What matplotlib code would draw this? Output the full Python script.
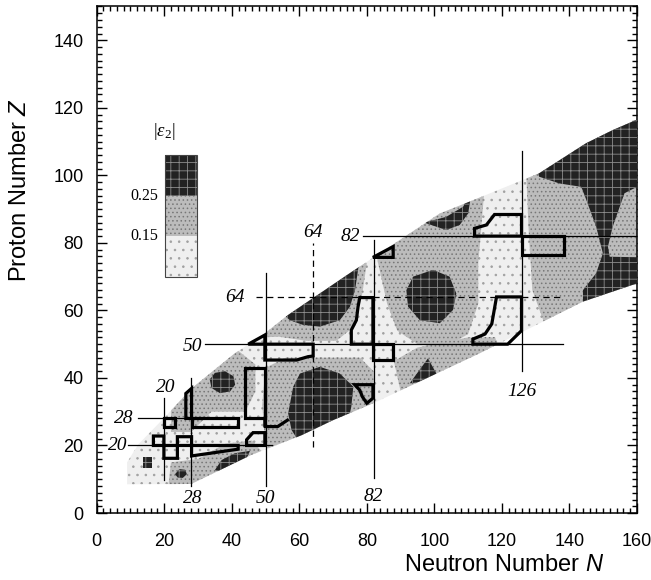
import matplotlib
matplotlib.use("Agg")
import matplotlib.pyplot as plt
from matplotlib.patches import Polygon, Rectangle
from matplotlib.ticker import MultipleLocator
from matplotlib.transforms import ScaledTranslation

plt.rcParams['font.family'] = ['Liberation Sans', 'DejaVu Sans']
plt.rcParams['mathtext.fontset'] = 'custom'
plt.rcParams['mathtext.rm'] = 'Liberation Serif'
plt.rcParams['mathtext.it'] = 'Liberation Serif:italic'
plt.rcParams['mathtext.sf'] = 'Liberation Sans:italic'
plt.rcParams['hatch.linewidth'] = 0.6

# outline of the calculated nuclei (N, Z)
band = [(9, 8.5), (9, 15), (12.3, 20.3), (20.2, 28.4), (28.1, 36.9), (40.9, 47.3),
        (49.8, 53.2), (56.6, 58.6), (74.9, 71), (101.6, 88.7), (110.4, 92.2),
        (131, 100.6), (144.9, 109.5), (152.8, 113.4), (160, 116.5), (160, 68),
        (144, 62.6), (113.4, 47.3), (81.9, 32.5), (70, 27.5), (60.6, 23),
        (45.8, 17.2), (28, 8.6)]

# 0.15 < |eps2| < 0.25
medium = [
    [(22, 24), (28, 24), (34, 30), (44, 30), (47, 36), (47, 44), (42, 48), (34, 48), (26, 40), (22, 32)],
    [(21, 6), (50, 6), (50, 17), (46, 21.5), (38, 20.5), (30, 16), (22, 15)],
    [(50, 20), (54, 15), (62, 16), (75, 22), (82, 30), (82, 42), (78, 46), (66, 46), (56, 46), (50, 43), (49, 32)],
    [(48, 52), (54, 52.2), (62, 51), (71, 51), (76, 55), (78.5, 64), (80, 74), (70, 78), (48, 62)],
    [(82, 80), (86, 62), (89, 54), (95, 50), (103, 49), (110, 53), (113, 62), (113, 74), (115, 98), (95, 98), (82, 85)],
    [(84, 30), (90, 36), (88, 45), (95, 49), (110, 52), (118, 52), (120, 45), (115, 35)],
    [(127, 105), (162, 125), (162, 55), (133, 55), (129, 66), (128, 82)],
]

# |eps2| > 0.25
dark = [
    [(13.8, 13.3), (16.4, 13.3), (16.4, 16.6), (13.8, 16.6)],
    [(23.2, 11.5), (24.5, 13), (26.2, 12.8), (26.7, 11.5), (25.5, 10.4), (24, 10.5)],
    [(33.5, 39.5), (35, 41.5), (38, 42), (40.5, 40.5), (41, 38), (39.5, 36), (36.5, 35.5), (34, 37)],
    [(35, 12.7), (37, 15.7), (40.9, 17.7), (45.4, 18.4), (44.4, 16.2), (39.9, 13.7), (36.5, 12.2)],
    [(60.2, 41.3), (66.1, 43.3), (72, 41.3), (76, 37.4), (75.4, 31.5), (74, 24.6), (70, 20),
     (60.6, 20), (57.7, 24.6), (56.7, 29.5), (58.2, 37.4)],
    [(54, 60), (78, 76), (76.5, 66), (75, 61.1), (72, 57.1), (66.1, 55.2), (61.1, 55.7), (57.2, 57.1)],
    [(93.7, 70), (99.6, 72), (104.5, 70), (106.5, 65), (105.5, 60.1), (101.6, 56.2), (95.7, 57.1),
     (92.2, 61.1), (91.7, 66)],
    [(98.1, 45.8), (100.6, 41.3), (100.1, 39.4), (92.7, 38.4)],
    [(97, 86), (103.5, 87.7), (108.5, 90.7), (111, 95), (110, 88.7), (107.5, 85.3), (103.5, 83.8)],
    [(130, 104), (162, 122), (162, 97.6), (156.3, 94.7), (152.8, 84.8), (151.4, 78.9), (151.9, 75.9),
     (162, 75.7), (162, 60), (144, 60), (144, 66), (147.9, 71), (149.9, 76.9), (147.9, 84.8),
     (145, 92.7), (143.5, 96.6), (137, 97.6), (131, 99.6)],
]

# regions framed by thick lines
boxes = [
    [(20, 25.5), (20, 28), (23.3, 28), (23.3, 25.5)],
    [(16.8, 20), (16.8, 22.8), (19.9, 22.8), (19.9, 16.2), (23.9, 16.2), (23.9, 22.6), (28.1, 22.6),
     (28.1, 16.9), (41.9, 18.9), (41.9, 20)],
    [(26.4, 28), (26.4, 35.4), (28.1, 36.9), (28.1, 28)],
    [(28.1, 25.5), (28.1, 28), (41.9, 28), (41.9, 25.5)],
    [(43.9, 28), (43.9, 42.8), (49.8, 42.8), (49.8, 28)],
    [(44.4, 20), (44.4, 21.7), (46.3, 23.8), (49.8, 23.8), (49.8, 20)],
    [(44.9, 50), (49.8, 52.7), (49.8, 50)],
    [(49.8, 50), (49.8, 45.3), (59.2, 45.3), (62.6, 46.3), (64.1, 46.5), (64.1, 50)],
    [(75.4, 50), (75.4, 54.2), (76.9, 57.1), (77.4, 61.1), (77.9, 63.8), (81.8, 63.8), (81.8, 50)],
    [(81.8, 45.3), (81.8, 50), (87.8, 50), (87.8, 45.3)],
    [(81.8, 75.7), (87.8, 78.9), (87.8, 75.7)],
    [(76.4, 38), (81.8, 38), (81.8, 34), (80, 32.5), (78.7, 34.4), (77.9, 36.4)],
    [(111.9, 82), (111.9, 84.3), (115.4, 85.3), (117.8, 88.4), (125.8, 88.4), (125.8, 82)],
    [(125.8, 76.4), (125.8, 82), (138.3, 82), (138.3, 76.4)],
    [(111.4, 50), (111.4, 51.5), (115, 53), (117, 56), (118.4, 64), (125.8, 64), (125.8, 54), (121.7, 50)],
]
open_box = [(49.8, 28), (49.8, 25.6), (53.6, 25.6), (56.5, 27.5)]

# magic numbers: (value, start, end)
n_lines = [(20, 9.8, 34), (28, 8, 40), (50, 8, 71), (82, 10.4, 80.8), (126, 42, 107.3)]
z_lines = [(20, 9.4, 51.8), (28, 12.1, 42), (50, 32, 138), (82, 78.9, 160)]
n_dashed = [(64, 19.5, 80)]
z_dashed = [(64, 47.3, 138)]
magic_labels = [("20", 6.2, 20), ("28", 8.1, 28), ("20", 20.4, 37.3), ("28", 28.4, 4.4),
                ("50", 50.1, 4.4), ("50", 28.4, 49.4), ("64", 41, 63.8), ("64", 63.9, 83),
                ("82", 75, 82), ("82", 82, 4.8), ("126", 125.9, 36)]

legend_levels = ["0.25", "0.15"]

light_style = dict(facecolor='#efefef', edgecolor='#a0a0a0', hatch='..', linewidth=0)
medium_style = dict(facecolor='#bcbcbc', edgecolor='#777777', hatch='....', linewidth=0)
dark_style = dict(facecolor='#222222', edgecolor='#8c8c8c', hatch='++', linewidth=0)

fig = plt.figure(figsize=(6.51, 5.8), dpi=100)
ax = fig.add_axes([0.1485, 0.1155, 0.83, 0.8733])
ax.set_xlim(0, 160)
ax.set_ylim(0, 150)

band_patch = Polygon(band, closed=True, **light_style, zorder=1)
ax.add_patch(band_patch)
for poly in medium:
    p = Polygon(poly, closed=True, **medium_style, zorder=2)
    ax.add_patch(p)
    p.set_clip_path(band_patch)
for poly in dark:
    p = Polygon(poly, closed=True, **dark_style, zorder=3)
    ax.add_patch(p)
    p.set_clip_path(band_patch)

for n, z0, z1 in n_lines:
    ax.plot([n, n], [z0, z1], color='black', lw=0.9, zorder=4)
for z, n0, n1 in z_lines:
    ax.plot([n0, n1], [z, z], color='black', lw=0.9, zorder=4)
for n, z0, z1 in n_dashed:
    ax.plot([n, n], [z0, z1], color='black', lw=0.9, ls=(0, (5, 3.5)), zorder=4)
for z, n0, n1 in z_dashed:
    ax.plot([n0, n1], [z, z], color='black', lw=0.9, ls=(0, (5, 3.5)), zorder=4)

for poly in boxes:
    ax.add_patch(Polygon(poly, closed=True, fill=False, edgecolor='black', lw=2.3,
                         joinstyle='miter', zorder=5))
xs, ys = zip(*open_box)
ax.plot(xs, ys, color='black', lw=2.3, zorder=5)

for txt, n, z in magic_labels:
    ax.text(n, z, txt, ha='center', va='center', fontsize=14, style='italic',
            family='Liberation Serif', zorder=6)

# |eps2| scale
x0, w, h, y0 = 0.1264, 0.0598, 0.0801, 0.4665
for i, st in enumerate([light_style, medium_style, dark_style]):
    ax.add_patch(Rectangle((x0, y0 + i * h), w, h, transform=ax.transAxes, zorder=6, **st))
ax.add_patch(Rectangle((x0, y0), w, 3 * h, transform=ax.transAxes, fill=False,
                       edgecolor='#444444', lw=0.8, zorder=7))
for i, lab in enumerate(legend_levels):
    ax.text(x0 - 0.013, y0 + (2 - i) * h, lab, transform=ax.transAxes, ha='right', va='center',
            fontsize=11.5, family='Liberation Serif')
ax.text(0.125, 0.754, r'$|\varepsilon_2|$', transform=ax.transAxes, ha='center', va='center',
        fontsize=13.5)

ax.xaxis.set_major_locator(MultipleLocator(20))
ax.xaxis.set_minor_locator(MultipleLocator(2))
ax.yaxis.set_major_locator(MultipleLocator(20))
ax.yaxis.set_minor_locator(MultipleLocator(2))
ax.set_yticks(range(0, 141, 20))
ax.tick_params(which='both', direction='in', top=True, right=True, width=1)
ax.tick_params(which='major', length=7.5, labelsize=13)
ax.tick_params(which='minor', length=3.5)
ax.tick_params(axis='x', which='major', pad=14.5)
ax.tick_params(axis='y', which='major', pad=9.5)
for s in ax.spines.values():
    s.set_linewidth(1.1)

fig.canvas.draw()
last = ax.get_xticklabels()[-1]
last.set_transform(last.get_transform() + ScaledTranslation(-4 / 72, 0, fig.dpi_scale_trans))

ax.text(0.754, -0.103, r'Neutron Number $\mathsf{N}$', transform=ax.transAxes,
        ha='center', va='center', fontsize=17)
ax.text(-0.142, 0.638, r'Proton Number $\mathsf{Z}$', transform=ax.transAxes,
        ha='center', va='center', fontsize=17, rotation=90)

fig.savefig('out.png', dpi=100)
